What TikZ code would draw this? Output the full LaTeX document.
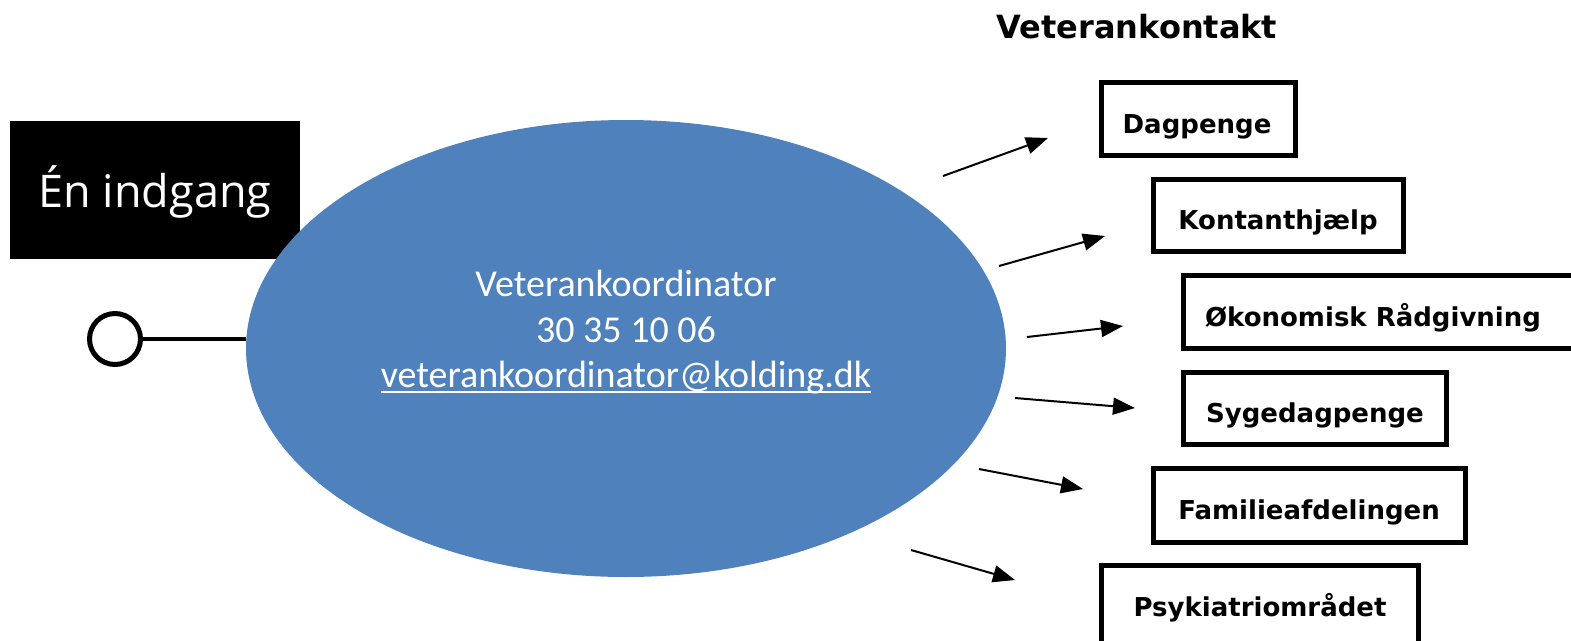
\documentclass[tikz,border=0pt]{standalone}
\usepackage{fontspec}
\setmainfont{Carlito}
\newfontfamily\boxfont{DejaVu Sans}
\newfontfamily\entryfont{Open Sans}
\usetikzlibrary{shapes.geometric,arrows.meta}
\definecolor{ovalblue}{RGB}{79,129,189}
\tikzset{
  unitbox/.style={draw=black, line width=5pt, fill=white, inner sep=0pt, outer sep=0pt},
  boxtext/.style={font=\boxfont\bfseries\fontsize{26}{30}\selectfont, inner sep=0pt, anchor=base},
  conn/.style={line width=2pt, -{Triangle[length=22pt,width=17pt]}}
}
\begin{document}
\begin{tikzpicture}[x=1pt,y=-1pt]
\useasboundingbox (0,0) rectangle (1571,640);
% title
\node[inner sep=0pt, anchor=base, font=\boxfont\bfseries\fontsize{32}{36}\selectfont] (title) at (1137,38) {Veterankontakt};
% black entry box
\node[fill=black, minimum width=290pt, minimum height=138pt, inner sep=0pt, outer sep=0pt] (entry) at (155,190) {};
\node[inner sep=0pt, anchor=base, text=white, font=\entryfont\fontsize{45}{50}\selectfont] (entrytext) at (155,207) {Én indgang};
% ellipse
\node[ellipse, fill=ovalblue, minimum width=760pt, minimum height=457pt, inner sep=0pt, outer sep=0pt] (oval) at (626,348.5) {};
\node[inner sep=0pt, anchor=base, text=white, font=\fontsize{38}{46}\selectfont] (l1) at (626,296) {Veterankoordinator};
\node[inner sep=0pt, anchor=base, text=white, font=\fontsize{38}{46}\selectfont] (l2) at (626,342) {30 35 10 06};
\node[inner sep=0pt, anchor=base, text=white, font=\fontsize{38}{46}\selectfont] (l3) at (626,387) {veterankoordinator@kolding.dk};
\draw[white, line width=2pt] ([yshift=-5pt]l3.base west) -- ([yshift=-5pt]l3.base east);
% small circle connector
\node[circle, draw=black, line width=5pt, fill=white, minimum size=51pt, inner sep=0pt, outer sep=0pt] (knob) at (115,339) {};
\draw[line width=4.5pt] (knob.east) -- (oval.west |- knob.east);
% boxes
\node[unitbox, minimum width=194pt, minimum height=73pt] (b1) at (1198.5,119) {};
\node[boxtext] (t1) at (1197,133) {Dagpenge};
\node[unitbox, minimum width=250pt, minimum height=72pt] (b2) at (1278.5,215.5) {};
\node[boxtext] (t2) at (1278,229) {Kontanthjælp};
\node[unitbox, minimum width=400pt, minimum height=73pt, anchor=west] (b3) at (1183.5,312) {};
\node[boxtext] (t3) at (1373,326) {Økonomisk Rådgivning};
\node[unitbox, minimum width=263pt, minimum height=72pt] (b4) at (1315,408.5) {};
\node[boxtext] (t4) at (1315,422) {Sygedagpenge};
\node[unitbox, minimum width=312pt, minimum height=74pt] (b5) at (1309.5,505.5) {};
\node[boxtext] (t5) at (1309,519) {Familieafdelingen};
\node[unitbox, minimum width=317pt, minimum height=80pt] (b6) at (1260,605) {};
\node[boxtext] (t6) at (1260,616) {Psykiatriområdet};
% arrows
\coordinate (s1) at (943,176);  \coordinate (e1) at (1048,138);
\coordinate (s2) at (999,266);  \coordinate (e2) at (1105,236);
\coordinate (s3) at (1027,337); \coordinate (e3) at (1123,326);
\coordinate (s4) at (1015,398); \coordinate (e4) at (1135,408);
\coordinate (s5) at (979,469);  \coordinate (e5) at (1083,489);
\coordinate (s6) at (911,550);  \coordinate (e6) at (1015,580);
\draw[conn] (s1) -- (e1);
\draw[conn] (s2) -- (e2);
\draw[conn] (s3) -- (e3);
\draw[conn] (s4) -- (e4);
\draw[conn] (s5) -- (e5);
\draw[conn] (s6) -- (e6);
\end{tikzpicture}
\end{document}
